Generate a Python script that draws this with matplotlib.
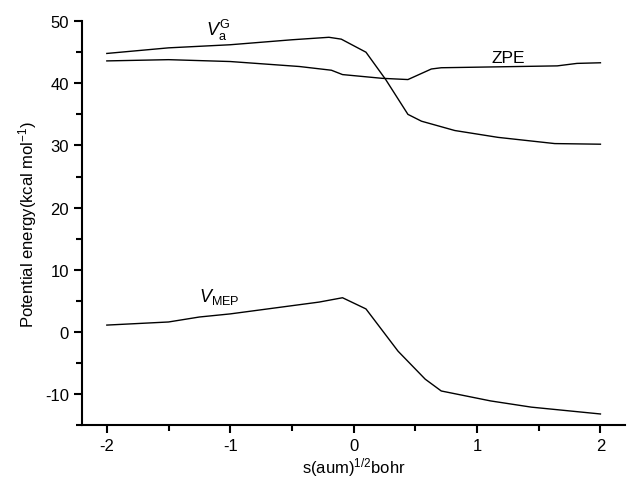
import matplotlib
matplotlib.use('Agg')
import matplotlib.pyplot as plt
from matplotlib.ticker import MultipleLocator

plt.rcParams['font.family'] = ['Liberation Sans', 'DejaVu Sans']
plt.rcParams['mathtext.fontset'] = 'custom'
plt.rcParams['mathtext.rm'] = 'Liberation Sans'
plt.rcParams['mathtext.it'] = 'Liberation Sans:italic'
plt.rcParams['axes.unicode_minus'] = False

# V_a^G curve
s_vag = [-2.0, -1.5, -1.0, -0.5, -0.2, -0.1, 0.1, 0.26, 0.44, 0.55, 0.82, 1.17, 1.63, 2.0]
vag = [44.8, 45.7, 46.2, 47.0, 47.4, 47.1, 45.0, 40.6, 35.0, 33.9, 32.4, 31.3, 30.3, 30.2]

# ZPE curve
s_zpe = [-2.0, -1.5, -1.0, -0.44, -0.18, -0.09, 0.23, 0.44, 0.63, 0.71, 1.65, 1.81, 2.0]
zpe = [43.6, 43.8, 43.5, 42.7, 42.1, 41.4, 40.8, 40.6, 42.3, 42.5, 42.8, 43.2, 43.3]

# V_MEP curve
s_mep = [-2.0, -1.5, -1.25, -1.0, -0.28, -0.09, 0.1, 0.36, 0.58, 0.71, 1.11, 1.44, 2.0]
vmep = [1.1, 1.6, 2.4, 2.9, 4.8, 5.5, 3.7, -3.1, -7.6, -9.5, -11.1, -12.1, -13.2]

fig = plt.figure(figsize=(6.27, 4.81), dpi=100)
ax = fig.add_axes([0.131, 0.114, 0.866, 0.840])

ax.plot(s_vag, vag, color='black', lw=1)
ax.plot(s_zpe, zpe, color='black', lw=1)
ax.plot(s_mep, vmep, color='black', lw=1)

ax.text(-1.2, 47.8, r'$V_{\mathrm{a}}^{\mathrm{G}}$', fontsize=13)
ax.text(1.12, 43.35, 'ZPE', fontsize=12.5)
ax.text(-1.25, 5.0, r'$V_{\mathrm{MEP}}$', fontsize=13)

ax.set_xlim(-2.2, 2.2)
ax.set_ylim(-15, 50)
ax.spines['top'].set_visible(False)
ax.spines['right'].set_visible(False)
ax.spines['left'].set_linewidth(1.5)
ax.spines['bottom'].set_linewidth(1.5)
ax.xaxis.set_major_locator(MultipleLocator(1))
ax.xaxis.set_minor_locator(MultipleLocator(0.5))
ax.yaxis.set_major_locator(MultipleLocator(10))
ax.yaxis.set_minor_locator(MultipleLocator(5))
ax.tick_params(which='major', length=6, width=1.5, labelsize=12)
ax.tick_params(which='minor', length=4, width=1.5)

ax.set_xlabel(r's(aum)$^{1/2}$bohr', fontsize=12, labelpad=1)
ax.set_ylabel(r'Potential energy(kcal mol$^{-1}$)', fontsize=12)

fig.savefig('out.png', dpi=100)
